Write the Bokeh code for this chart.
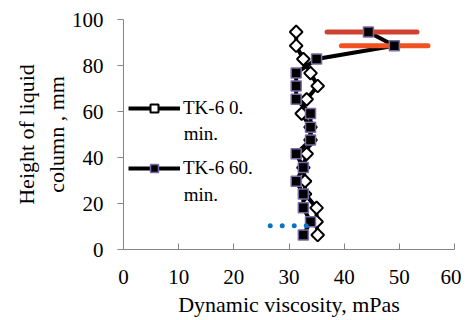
from bokeh.plotting import figure
from bokeh.models import Legend, LegendItem, FixedTicker, Range1d, Label
from bokeh.embed import file_html
from bokeh.resources import INLINE

heights = [94.6, 88.6, 82.8, 76.7, 71.1, 65.3, 59.1, 53.2, 47.6, 41.6, 35.6, 29.7, 24.1, 18.1, 12.1, 6.3]
visc_0min = [31.3, 31.3, 32.6, 33.9, 35.2, 33.2, 32.3, 33.9, 33.9, 33.2, 32.6, 32.9, 32.9, 35.0, 35.0, 35.2]
visc_60min = [44.4, 49.1, 35.0, 31.3, 31.3, 31.3, 33.9, 33.9, 33.9, 31.3, 32.6, 31.3, 32.6, 32.6, 33.9, 32.6]

bar_upper_y = 94.6
bar_upper_x = [36.9, 53.2]
bar_lower_y = 88.6
bar_lower_x = [39.5, 55.2]
dot_y = 10.3
dot_x = [26.6, 33.3]

x_ticks = [0, 10, 20, 30, 40, 50, 60]
y_ticks = [0, 20, 40, 60, 80, 100]

SERIF = "Liberation Serif"

p = figure(width=461, height=319, output_backend="svg", toolbar_location=None,
           x_range=Range1d(0, 60), y_range=Range1d(0, 100),
           min_border_left=123, min_border_right=7, min_border_top=19, min_border_bottom=65)
p.grid.visible = False
p.outline_line_color = None
p.background_fill_color = "white"

p.axis.axis_line_color = "#868686"
p.axis.major_tick_line_color = "#868686"
p.axis.minor_tick_line_color = None
p.axis.major_label_text_font = SERIF
p.axis.major_label_text_font_size = "21px"
p.axis.major_label_text_color = "black"
p.axis.axis_label_text_font = SERIF
p.axis.axis_label_text_font_size = "22px"
p.axis.axis_label_text_font_style = "normal"
p.axis.axis_label_text_color = "black"

p.xaxis.ticker = FixedTicker(ticks=x_ticks)
p.yaxis.ticker = FixedTicker(ticks=y_ticks)
p.xaxis.major_tick_in = 6
p.xaxis.major_tick_out = 0
p.yaxis.major_tick_in = 0
p.yaxis.major_tick_out = 6
p.xaxis.major_label_standoff = 20
p.yaxis.major_label_standoff = 14
p.xaxis.axis_label = "Dynamic viscosity, mPas"
p.yaxis.axis_label = "Height of liquid\ncolumn , mm"
p.xaxis.axis_label_standoff = 5
p.yaxis.axis_label_standoff = 0

l0 = p.line(visc_0min, heights, line_color="black", line_width=4)
l60 = p.line(visc_60min, heights, line_color="black", line_width=4)

p.line(bar_upper_x, [bar_upper_y, bar_upper_y], line_color="#cf4230", line_width=5, line_cap="round")
p.line(bar_lower_x, [bar_lower_y, bar_lower_y], line_color="#f25122", line_width=5, line_cap="round")

m0 = p.scatter(visc_0min, heights, marker="square", angle=0.785398, size=9,
               fill_color="white", line_color="black", line_width=2)
m60 = p.scatter(visc_60min, heights, marker="square", size=10,
                fill_color="black", line_color="#7a6aa8", line_width=1.5)

p.line(dot_x, [dot_y, dot_y], line_color="#0a74c4", line_width=5, line_cap="round", line_dash="0 12")

legend = Legend(items=[
    LegendItem(label="TK-6 0.", renderers=[l0, m0]),
    LegendItem(label="TK-6 60.", renderers=[l60, m60]),
], location=(5, 70))
legend.label_text_font = SERIF
legend.label_text_font_size = "19px"
legend.label_text_color = "black"
legend.glyph_width = 52
legend.glyph_height = 20
legend.label_standoff = 3
legend.padding = 0
legend.margin = 0
legend.spacing = 38
legend.border_line_color = None
legend.background_fill_alpha = 0
p.add_layout(legend)

for ly in (50.4, 24.0):
    p.add_layout(Label(x=10.9, y=ly, text="min.", text_font=SERIF, text_font_size="19px",
                       text_color="black", text_baseline="middle", text_align="left"))

open("out.html", "w").write(file_html(p, INLINE))
